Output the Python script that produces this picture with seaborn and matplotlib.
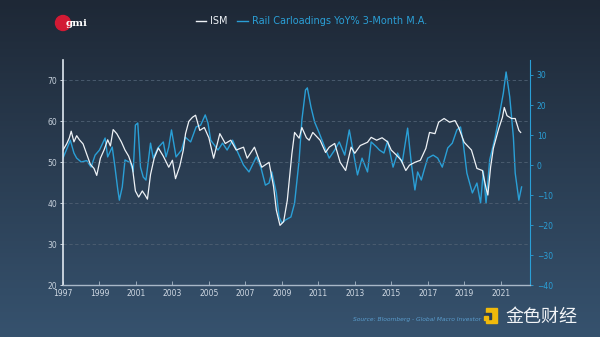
import numpy as np
import pandas as pd
import matplotlib
matplotlib.use("Agg")
import matplotlib.pyplot as plt
from matplotlib.patches import Circle, Rectangle
from matplotlib.lines import Line2D
import seaborn as sns

# ISM manufacturing index (left axis), dates in decimal years
ism_dates = [1997.0, 1997.2, 1997.35, 1997.45, 1997.6, 1997.75, 1997.9, 1998.1, 1998.3, 1998.5,
             1998.7, 1998.85, 1999.05, 1999.25, 1999.45, 1999.6, 1999.75, 1999.95, 2000.2, 2000.4,
             2000.6, 2000.8, 2000.97, 2001.15, 2001.35, 2001.5, 2001.63, 2001.8, 2002.0, 2002.23,
             2002.5, 2002.8, 2003.0, 2003.17, 2003.4, 2003.6, 2003.72, 2003.9, 2004.1, 2004.27,
             2004.5, 2004.75, 2005.0, 2005.26, 2005.6, 2005.9, 2006.2, 2006.5, 2006.9, 2007.1,
             2007.5, 2007.9, 2008.3, 2008.55, 2008.7, 2008.9, 2009.1, 2009.3, 2009.55, 2009.7,
             2009.95, 2010.1, 2010.35, 2010.5, 2010.7, 2011.1, 2011.4, 2011.6, 2011.9, 2012.2,
             2012.5, 2012.8, 2013.0, 2013.3, 2013.7, 2013.9, 2014.2, 2014.5, 2014.8, 2015.0,
             2015.3, 2015.55, 2015.8, 2016.0, 2016.3, 2016.6, 2016.9, 2017.1, 2017.4, 2017.6,
             2017.9, 2018.2, 2018.5, 2018.7, 2019.0, 2019.4, 2019.7, 2020.0, 2020.2, 2020.3,
             2020.45, 2020.6, 2020.9, 2021.1, 2021.2, 2021.35, 2021.6, 2021.8, 2022.0, 2022.1]
ism_values = [53.0, 54.5, 56.0, 57.6, 55.0, 56.5, 55.5, 54.5, 52.0, 49.5,
              48.5, 46.8, 51.0, 53.0, 55.5, 54.0, 58.0, 57.0, 55.0, 53.0,
              51.5, 49.0, 43.0, 41.5, 43.0, 42.0, 41.0, 47.0, 51.0, 53.5,
              51.5, 48.8, 50.5, 46.0, 49.0, 53.0, 57.0, 60.0, 61.0, 61.5,
              57.8, 58.5, 56.0, 51.0, 57.0, 54.6, 55.4, 53.0, 53.7, 51.0,
              53.7, 48.8, 50.0, 44.0, 38.3, 34.6, 35.5, 40.7, 52.0, 57.3,
              55.9, 58.5, 56.0, 55.4, 57.3, 55.4, 52.4, 53.7, 54.6, 50.0,
              48.0, 53.7, 52.2, 54.1, 54.9, 56.1, 55.4, 56.0, 55.0, 53.0,
              51.7, 50.5, 48.0, 49.3, 50.0, 50.5, 53.4, 57.3, 57.0, 59.8,
              60.7, 59.8, 60.2, 58.5, 54.9, 53.0, 48.5, 48.0, 43.7, 42.0,
              48.8, 53.4, 58.3, 61.0, 63.4, 61.4, 60.7, 60.7, 57.8, 57.3]

# Rail carloadings YoY % (3-month moving average, right axis)
rail_dates = [1997.0, 1997.25, 1997.4, 1997.6, 1997.75, 1998.0, 1998.3, 1998.54, 1998.76, 1999.0,
              1999.31, 1999.45, 1999.7, 1999.85, 2000.0, 2000.09, 2000.25, 2000.4, 2000.7, 2000.85,
              2000.97, 2001.1, 2001.25, 2001.4, 2001.55, 2001.8, 2001.95, 2002.2, 2002.5, 2002.65,
              2002.8, 2002.95, 2003.2, 2003.5, 2003.7, 2004.0, 2004.3, 2004.55, 2004.8, 2004.95,
              2005.1, 2005.5, 2005.75, 2006.0, 2006.3, 2006.6, 2006.9, 2007.2, 2007.6, 2007.85,
              2008.1, 2008.3, 2008.45, 2008.7, 2008.85, 2009.0, 2009.2, 2009.5, 2009.7, 2009.95,
              2010.1, 2010.3, 2010.4, 2010.6, 2010.8, 2011.05, 2011.35, 2011.6, 2011.9, 2012.15,
              2012.45, 2012.7, 2012.9, 2013.15, 2013.4, 2013.7, 2013.9, 2014.2, 2014.35, 2014.6,
              2014.8, 2015.1, 2015.35, 2015.6, 2015.9, 2016.1, 2016.3, 2016.45, 2016.65, 2016.85,
              2017.0, 2017.3, 2017.55, 2017.8, 2018.1, 2018.35, 2018.6, 2018.8, 2018.95, 2019.15,
              2019.45, 2019.7, 2019.9, 2020.05, 2020.2, 2020.4, 2020.7, 2020.95, 2021.15, 2021.3,
              2021.5, 2021.7, 2021.8, 2022.0, 2022.15]
rail_values = [2.3, 6.0, 8.3, 4.0, 2.3, 1.0, 1.5, -0.7, 3.3, 5.0,
               9.0, 2.7, 6.0, -0.7, -8.0, -11.7, -7.3, 1.7, 0.7, -2.3,
               13.3, 14.0, -0.7, -4.0, -5.0, 7.3, 2.3, 5.7, 7.7, 2.7,
               6.0, 11.7, 2.7, 5.0, 9.3, 7.7, 12.7, 13.3, 16.7, 14.0,
               8.3, 5.0, 7.3, 5.0, 8.3, 4.0, 0.0, -2.3, 2.7, -0.7,
               -6.7, -6.0, -2.3, -9.3, -17.3, -19.3, -18.3, -17.3, -12.7, 1.7,
               15.0, 25.0, 25.7, 19.3, 14.3, 10.7, 6.0, 2.3, 5.0, 7.7,
               3.3, 11.7, 5.0, -3.3, 2.3, -2.3, 7.7, 6.0, 5.0, 4.0,
               8.0, -0.7, 4.0, 0.7, 12.3, 0.7, -8.3, -2.3, -5.0, -0.7,
               2.3, 3.3, 2.3, -0.7, 5.7, 7.3, 11.7, 12.7, 7.3, -2.7,
               -9.3, -6.0, -12.7, -2.0, -12.7, 1.7, 9.3, 17.3, 24.0, 31.0,
               22.7, 9.3, -2.7, -11.7, -7.3]

x_ticks = list(range(1997, 2022, 2))
left_ticks = [20, 30, 40, 50, 60, 70]
right_ticks = [-40, -30, -20, -10, 0, 10, 20, 30]
series_names = ["ISM", "Rail Carloadings YoY% 3-Month M.A."]

ism_df = pd.DataFrame({"date": ism_dates, "value": ism_values})
rail_df = pd.DataFrame({"date": rail_dates, "value": rail_values})

WHITE = "#eef2f6"
CYAN = "#2a9fd6"

fig = plt.figure(figsize=(6.0, 3.37), dpi=100)

# vertical gradient background
bg = fig.add_axes([0, 0, 1, 1], zorder=-10)
grad = np.linspace(0, 1, 256).reshape(-1, 1)
top = np.array([30, 40, 54]) / 255
bot = np.array([54, 82, 110]) / 255
img = top[None, None, :] * (1 - grad[:, :, None]) + bot[None, None, :] * grad[:, :, None]
bg.imshow(img, aspect="auto", extent=[0, 1, 0, 1])
bg.axis("off")

ax = fig.add_axes([0.105, 0.154, 0.778, 0.668])
ax.set_facecolor("none")
ax2 = ax.twinx()

sns.lineplot(data=ism_df, x="date", y="value", ax=ax, color=WHITE, lw=0.9, zorder=3)
sns.lineplot(data=rail_df, x="date", y="value", ax=ax2, color=CYAN, lw=1.0, zorder=2)
ax.set_zorder(ax2.get_zorder() + 1)
ax.patch.set_visible(False)

ax.set_xlim(1997, 2022.6)
ax.set_ylim(20, 75)
ax2.set_ylim(-40, 35)
ax.set_xticks(x_ticks)
ax.set_xticklabels([str(t) for t in x_ticks])
ax.set_yticks(left_ticks)
ax2.set_yticks(right_ticks)
ax.set_xlabel("")
ax.set_ylabel("")
ax2.set_ylabel("")

for g in [30, 40, 50, 60, 70]:
    ax.axhline(g, color="#4f6073", lw=0.6, ls=(0, (4, 3)), zorder=0)

for a in (ax, ax2):
    a.spines["top"].set_visible(False)
ax.spines["right"].set_visible(False)
ax.spines["left"].set_color("#dfe7ef")
ax.spines["left"].set_linewidth(1.2)
ax.spines["bottom"].set_color("#a9b8c8")
ax.spines["bottom"].set_linewidth(1.0)
ax2.spines["left"].set_visible(False)
ax2.spines["bottom"].set_visible(False)
ax2.spines["right"].set_color(CYAN)
ax2.spines["right"].set_linewidth(0.8)

ax.tick_params(axis="x", direction="in", length=3, width=0.6, color="#a9b8c8",
               labelcolor="#d0d9e3", labelsize=5.5, pad=3)
ax.tick_params(axis="y", direction="out", length=2, width=0.6, color="#dfe7ef",
               labelcolor="#c6d0db", labelsize=5.5, pad=2)
ax2.tick_params(axis="y", direction="out", length=2, width=0.6, color=CYAN,
                labelcolor=CYAN, labelsize=5.5, pad=3)

# overlay in pixel coordinates for the header and footer
ov = fig.add_axes([0, 0, 1, 1], zorder=5)
ov.set_xlim(0, 600)
ov.set_ylim(337, 0)
ov.axis("off")

# legend along the top
ov.add_line(Line2D([196, 206], [21, 21], color=WHITE, lw=1.0))
ov.text(210, 21, series_names[0], color=WHITE, fontsize=7, ha="left", va="center")
ov.add_line(Line2D([237, 248], [21, 21], color=CYAN, lw=1.0))
ov.text(252, 21, series_names[1], color=CYAN, fontsize=7, ha="left", va="center")

# gmi badge
ov.add_patch(Circle((63, 23), 7.5, color="#d21a34", zorder=1))
ov.text(66, 23.5, "gmi", color="white", fontsize=7.5, family="DejaVu Serif",
        ha="left", va="center", fontweight="bold", zorder=2)

# source line and site mark
ov.text(481, 320, "Source: Bloomberg - Global Macro Investor", color="#5a9ccc",
        fontsize=4.3, style="italic", ha="right", va="center")
ov.add_patch(Rectangle((486, 308), 11, 15, color="#f0b90b", zorder=3))
ov.add_patch(Rectangle((484, 313), 7, 6, color="#2b3f55", zorder=4))
ov.add_patch(Rectangle((484, 316), 4, 4, color="#f0b90b", zorder=5))
ov.text(505, 317, "金色财经", color="#f2f4f7", fontsize=13,
        family=["Noto Sans CJK SC", "DejaVu Sans"], ha="left", va="center", zorder=6)

fig.savefig("out.png", dpi=100)
